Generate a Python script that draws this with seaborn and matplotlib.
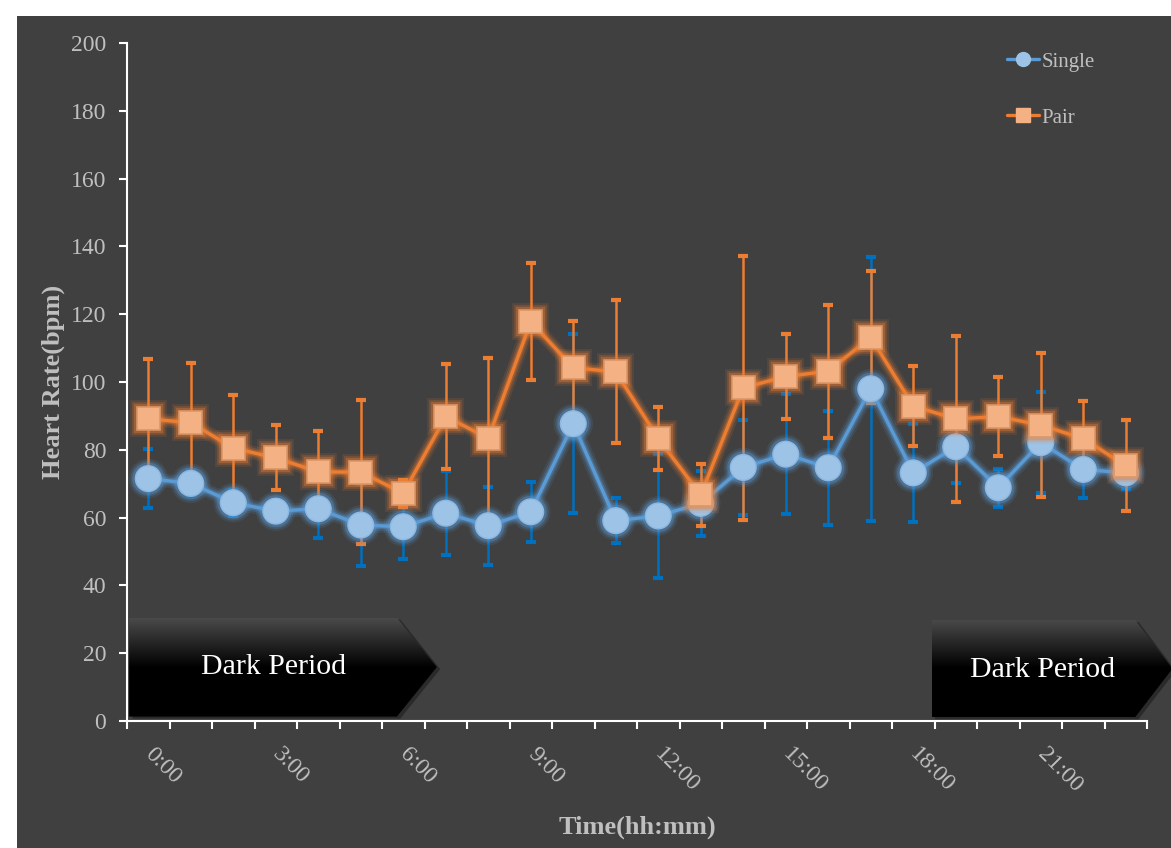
import numpy as np
import seaborn as sns
import matplotlib.pyplot as plt
import matplotlib.patheffects as pe
from matplotlib.patches import Polygon, Rectangle
from matplotlib.lines import Line2D
from matplotlib.colors import LinearSegmentedColormap

# hourly means and SD
hours = list(range(24))
label_hours = [0, 3, 6, 9, 12, 15, 18, 21]
hour_labels = ['0:00', '3:00', '6:00', '9:00', '12:00', '15:00', '18:00', '21:00']

single_mean = [71.5, 70.1, 64.4, 61.9, 62.6, 57.8, 57.3, 61.3, 57.6, 61.7, 87.7, 59.1,
               60.5, 64.2, 74.8, 78.7, 74.7, 98.0, 73.2, 80.9, 68.8, 82.1, 74.2, 73.2]
single_sd = [8.6, 3.5, 3.8, 3.2, 8.7, 12.0, 9.4, 12.4, 11.5, 8.8, 26.4, 6.6,
             18.3, 9.6, 14.0, 17.7, 16.8, 39.0, 14.5, 10.6, 5.6, 14.9, 8.3, 4.7]

pair_mean = [89.1, 88.0, 80.5, 77.6, 73.5, 73.4, 67.2, 89.8, 83.4, 117.8, 104.2, 103.0,
             83.3, 66.7, 98.3, 101.6, 103.2, 113.2, 92.9, 89.1, 89.8, 87.3, 83.3, 75.3]
pair_sd = [17.6, 17.6, 15.8, 9.6, 12.0, 21.3, 4.0, 15.5, 23.8, 17.2, 13.9, 21.1,
           9.3, 9.2, 39.0, 12.6, 19.6, 19.4, 11.9, 24.6, 11.6, 21.2, 11.1, 13.4]

bg = '#404040'
txt_gray = '#BFBFBF'

sns.set_style('ticks')
plt.rcParams['font.family'] = ['Liberation Serif', 'DejaVu Serif']

fig = plt.figure(figsize=(11.71, 8.48), dpi=100, facecolor='white')
# dark chart area with thin white margin top / left
fig.add_artist(Rectangle((17 / 1171, 0), 1, 1 - 16 / 848, transform=fig.transFigure,
                         facecolor=bg, edgecolor='none', zorder=-5))
ax = fig.add_axes([127 / 1171, 1 - 721 / 848, 1020 / 1171, 678 / 848])
ax.set_facecolor(bg)

# error bars first so the markers sit on top
ax.errorbar(hours, single_mean, yerr=single_sd, fmt='none', ecolor='#0070C0',
            elinewidth=1.8, capsize=3.5, capthick=3, zorder=2)
ax.errorbar(hours, pair_mean, yerr=pair_sd, fmt='none', ecolor='#ED7D31',
            elinewidth=1.8, capsize=3.5, capthick=3, zorder=2.1)


def glow(color):
    return [pe.Stroke(linewidth=10, foreground=color, alpha=0.12),
            pe.Stroke(linewidth=7, foreground=color, alpha=0.2),
            pe.Stroke(linewidth=4.5, foreground=color, alpha=0.35),
            pe.Normal()]


sns.lineplot(x=hours, y=single_mean, ax=ax, color='#5B9BD5', lw=2.4, marker='o',
             markersize=18.5, markerfacecolor='#9DC3E6', markeredgecolor='#8DB8E2',
             markeredgewidth=1, zorder=3)
ax.lines[-1].set_path_effects(glow('#5B9BD5'))

sns.lineplot(x=hours, y=pair_mean, ax=ax, color='#ED7D31', lw=2.4, marker='s',
             markersize=16.5, markerfacecolor='#F4B183', markeredgecolor='#D9976A',
             markeredgewidth=1.2, zorder=4)
ax.lines[-1].set_path_effects(glow('#ED7D31'))

# "Dark Period" arrows with a top-down gradient
grad_cmap = LinearSegmentedColormap.from_list('dark', ['#4a4a4a', '#000000', '#000000'])
grad = np.linspace(0, 1, 200).reshape(-1, 1)
arrows = [(-0.45, 5.85, 6.79, 1.3, 30.5, 2.94, 15.9),
          (18.43, 23.22, 24.1, 1.1, 29.8, 21.05, 15.0)]
for x0, x1, tip, yb, yt, tx, ty in arrows:
    ym = (yb + yt) / 2
    pts = [(x0, yb), (x0, yt), (x1, yt), (tip, ym), (x1, yb)]
    shadow = Polygon([(x + 0.08, y - 0.6) for x, y in pts], closed=True,
                     facecolor='#2a2a2a', edgecolor='none', zorder=1, clip_on=False)
    ax.add_patch(shadow)
    poly = Polygon(pts, closed=True, facecolor='none', edgecolor='none', zorder=1.1,
                   clip_on=False)
    ax.add_patch(poly)
    im = ax.imshow(grad, cmap=grad_cmap, extent=(x0, tip, yb, yt), origin='upper',
                   aspect='auto', zorder=1.1, interpolation='bilinear')
    im.set_clip_path(poly)
    im.set_clip_box(fig.bbox)
    ax.text(tx, ty, 'Dark Period', color='white', fontsize=21.5, ha='center',
            va='center', zorder=5)

ax.set_xlim(-0.5, 23.5)
ax.set_ylim(0, 200)
ax.set_yticks(range(0, 201, 20))
ax.set_xticks(label_hours)
ax.set_xticklabels(hour_labels)
ax.set_xticks(np.arange(-0.5, 24, 1), minor=True)
ax.tick_params(axis='x', which='major', length=0, pad=22, labelsize=17, labelcolor=txt_gray)
ax.tick_params(axis='x', which='minor', length=6, width=1.5, color='white', direction='out')
ax.tick_params(axis='y', length=6, width=1.5, color='white', pad=9, labelsize=17,
               labelcolor=txt_gray)
plt.setp(ax.get_xticklabels(), rotation=-45, ha='left', va='center', rotation_mode='anchor')

for side in ['top', 'right']:
    ax.spines[side].set_visible(False)
for side in ['left', 'bottom']:
    ax.spines[side].set_color('white')
    ax.spines[side].set_linewidth(1.5)

ax.set_ylabel('Heart Rate(bpm)', fontsize=19, fontweight='bold', color=txt_gray)
ax.set_xlabel('Time(hh:mm)', fontsize=19, fontweight='bold', color=txt_gray)
ax.yaxis.set_label_coords(-0.061, 0.5)
ax.xaxis.set_label_coords(0.5, -0.140)

handles = [Line2D([], [], color='#5B9BD5', lw=2.4, marker='o', markersize=10,
                  markerfacecolor='#9DC3E6', markeredgecolor='#9DC3E6'),
           Line2D([], [], color='#ED7D31', lw=2.4, marker='s', markersize=9.5,
                  markerfacecolor='#F4B183', markeredgecolor='#F4B183')]
leg = fig.legend(handles, ['Single', 'Pair'], loc='upper left',
                 bbox_to_anchor=(1007 / 1171, 1 - 52 / 848), frameon=False,
                 fontsize=15, handlelength=1.55, handletextpad=0.12,
                 labelspacing=1.75, borderpad=0, borderaxespad=0)
for t in leg.get_texts():
    t.set_color(txt_gray)

plt.savefig('out.png', dpi=100, facecolor=fig.get_facecolor())
